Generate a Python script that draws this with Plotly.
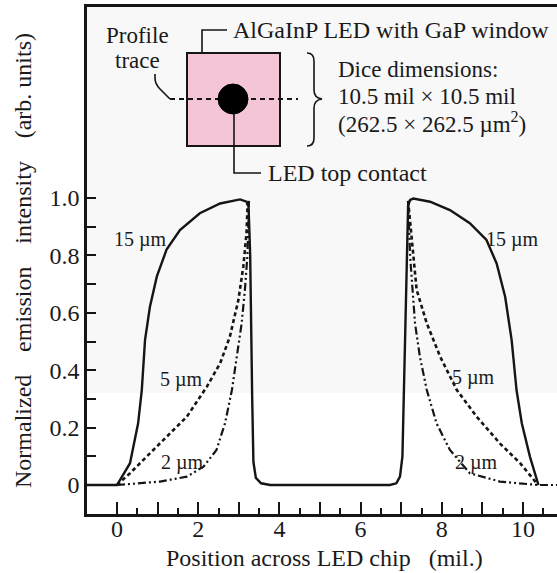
import plotly.graph_objects as go

# ---------------- data ----------------
x_15um = [-0.74, 0, 0.32, 0.52, 0.61, 0.69, 0.81, 0.98, 1.22, 1.55, 2.04, 2.54, 3.03, 3.19,
          3.24, 3.28, 3.33, 3.36, 3.42, 3.55, 3.77,
          6.72, 6.88, 6.97, 7.03, 7.08, 7.13, 7.17, 7.22, 7.30,
          7.71, 8.2, 8.69, 9.1, 9.35, 9.56, 9.72, 9.84, 9.97, 10.17, 10.38]
y_15um = [0, 0, 0.076, 0.215, 0.33, 0.505, 0.62, 0.726, 0.82, 0.888, 0.947, 0.981, 0.995, 0.987,
          0.97, 0.8, 0.3, 0.08, 0.025, 0.006, 0,
          0, 0.006, 0.029, 0.1, 0.4, 0.8, 0.975, 0.993, 0.998,
          0.987, 0.958, 0.912, 0.854, 0.772, 0.656, 0.505, 0.331, 0.215, 0.099, 0]

x_5um = [0, 0.32, 0.73, 1.22, 1.72, 2.21, 2.54, 2.78, 2.99, 3.11, 3.19, 3.22, None,
         7.17, 7.22, 7.38, 7.63, 7.96, 8.37, 8.86, 9.43, 9.93, 10.37]
y_5um = [0, 0.041, 0.099, 0.168, 0.238, 0.342, 0.424, 0.517, 0.645, 0.76, 0.877, 0.99, None,
         0.99, 0.912, 0.68, 0.563, 0.447, 0.331, 0.238, 0.145, 0.076, 0]

x_2um = [0, 1.06, 1.72, 2.13, 2.45, 2.66, 2.83, 2.95, 3.07, 3.15, 3.21, 3.24, 3.25, None,
         7.17, 7.2, 7.22, 7.34, 7.46, 7.63, 7.87, 8.2, 8.69, 9.43, 10.37, 10.84]
y_2um = [0, 0.012, 0.029, 0.064, 0.122, 0.215, 0.331, 0.447, 0.563, 0.68, 0.795, 0.912, 0.99, None,
         0.99, 0.9, 0.795, 0.563, 0.447, 0.331, 0.215, 0.122, 0.041, 0.012, 0, 0]

x_label_ticks = [0, 2, 4, 6, 8, 10]
x_label_text = ["0", "2", "4", "6", "8", "10"]
x_odd_ticks = [1, 3, 5, 7, 9]
x_half_ticks = [0.5 + i for i in range(11)]
y_label_ticks = [0, 0.2, 0.4, 0.6, 0.8, 1.0]
y_label_text = ["0", "0.2", "0.4", "0.6", "0.8", "1.0"]
y_minor_ticks = [0.1, 0.3, 0.5, 0.7, 0.9]

curve_labels = [("15 µm", 0.57, 0.854), ("5 µm", 1.59, 0.366), ("2 µm", 1.61, 0.08),
                ("15 µm", 9.75, 0.854), ("5 µm", 8.78, 0.373), ("2 µm", 8.85, 0.08)]

x_title = "Position across LED chip\u2002 (mil.)"
y_title = "Normalized\u2002\u2009 emission\u2002\u2009 intensity\u2002\u2009 (arb. units)"

# ---------------- layout geometry ----------------
W, H = 557, 573
L, R, T, B = 87, 0, 7, 59
PW, PH = W - L - R, H - T - B
FONT = "Liberation Serif, Times New Roman, serif"
INK = "#151515"
TXT = "#1a1a1a"
XR = [-0.739, 10.837]


def P(px, py):
    """pixel -> paper coordinates"""
    return (px - L) / PW, (H - B - py) / PH


def path(cmds):
    out = []
    for c in cmds:
        if isinstance(c, str):
            out.append(c)
        else:
            x, y = P(*c)
            out.append(f"{x:.5f},{y:.5f}")
    return " ".join(out)


fig = go.Figure()
fig.add_trace(go.Scatter(x=x_15um, y=y_15um, mode="lines",
                         line=dict(color=INK, width=2.4), hoverinfo="skip"))
fig.add_trace(go.Scatter(x=x_5um, y=y_5um, mode="lines",
                         line=dict(color=INK, width=2.6, dash="4px,3px"), hoverinfo="skip"))
fig.add_trace(go.Scatter(x=x_2um, y=y_2um, mode="lines",
                         line=dict(color=INK, width=2.2, dash="8px,3px,2px,3px,2px,3px"),
                         hoverinfo="skip"))

shapes = []
# faint scan tint
x0, y0 = P(L, 393)
x1, y1 = P(W, T)
shapes.append(dict(type="rect", xref="paper", yref="paper", x0=x0, y0=y0, x1=x1, y1=y1,
                   fillcolor="#f8f8f8", line=dict(width=0), layer="below"))
# pink chip
x0, y0 = P(187, 146)
x1, y1 = P(280, 53)
shapes.append(dict(type="rect", xref="paper", yref="paper", x0=x0, y0=y0, x1=x1, y1=y1,
                   fillcolor="#f3c5d6", line=dict(color=INK, width=2)))
# profile trace dashed line
x0, y0 = P(170, 99)
x1, _ = P(298, 99)
shapes.append(dict(type="line", xref="paper", yref="paper", x0=x0, y0=y0, x1=x1, y1=y0,
                   line=dict(color=INK, width=2, dash="5px,4px")))
# top contact
x0, y0 = P(218, 114)
x1, y1 = P(248, 84)
shapes.append(dict(type="circle", xref="paper", yref="paper", x0=x0, y0=y0, x1=x1, y1=y1,
                   fillcolor="#000000", line=dict(color="#000000", width=1)))
# leaders and brace
for cmds in (
    ["M", (170, 99), "L", (160, 89), "Q", (155, 84), (155, 78), "L", (155, 74)],
    ["M", (202, 53), "L", (202, 30), "L", (227, 30)],
    ["M", (234, 114), "L", (234, 173), "L", (261, 173)],
    ["M", (307, 53), "Q", (314, 53), (314, 61), "L", (314, 90), "Q", (314, 98), (322, 99),
     "Q", (314, 100), (314, 108), "L", (314, 138), "Q", (314, 146), (307, 146)],
):
    shapes.append(dict(type="path", xref="paper", yref="paper", path=path(cmds),
                       line=dict(color=INK, width=1.6)))

annotations = []


def txt(s, px, py, size=24, xanchor="left", **kw):
    x, y = P(px, py)
    annotations.append(dict(text=s, x=x, y=y, xref="paper", yref="paper", showarrow=False,
                            xanchor=xanchor, yanchor="middle",
                            font=dict(family=FONT, size=size, color=TXT), **kw))


txt("Profile", 137, 36, size=23, xanchor="center")
txt("trace", 137, 61, size=23, xanchor="center")
txt("AlGaInP LED with GaP window", 231, 30, size=24)
txt("Dice dimensions:", 336, 70, size=23)
txt("10.5 mil × 10.5 mil", 336, 96, size=23)
txt("(262.5 × 262.5 µm<sup>2</sup>)", 336, 123, size=23)
txt("LED top contact", 266, 173, size=24)
txt(x_title, 324, 558, size=24, xanchor="center")

for s, xv, yv in curve_labels:
    annotations.append(dict(text=s, x=xv, y=yv, xref="x", yref="y", showarrow=False,
                            xanchor="center", yanchor="middle",
                            font=dict(family=FONT, size=20, color=TXT)))

# invisible helper trace so the overlay axis carrying the odd-integer ticks is drawn
fig.add_trace(go.Scatter(x=[XR[0]], y=[0], xaxis="x2", mode="markers",
                         marker=dict(opacity=0), hoverinfo="skip"))

fig.update_layout(
    width=W, height=H,
    margin=dict(l=L, r=R, t=T, b=B, pad=0),
    paper_bgcolor="white", plot_bgcolor="rgba(0,0,0,0)",
    showlegend=False,
    shapes=shapes, annotations=annotations,
    font=dict(family=FONT, size=24, color=TXT),
    xaxis=dict(range=XR, showgrid=False, zeroline=False,
               showline=True, linecolor=INK, linewidth=2.5, mirror=True,
               tickmode="array", tickvals=x_label_ticks, ticktext=x_label_text,
               ticks="inside", ticklen=12, tickwidth=1.6, tickcolor=INK,
               ticklabelstandoff=-9,
               tickfont=dict(family=FONT, size=24, color=TXT),
               minor=dict(tickmode="array", tickvals=x_half_ticks, ticks="inside",
                          ticklen=6, tickwidth=1.6, tickcolor=INK, showgrid=False)),
    xaxis2=dict(range=XR, overlaying="x", anchor="y", side="bottom",
                showgrid=False, zeroline=False, showline=False, showticklabels=False,
                tickmode="array", tickvals=x_odd_ticks,
                ticks="inside", ticklen=12, tickwidth=1.6, tickcolor=INK),
    yaxis=dict(range=[-0.101, 1.6655], showgrid=False, zeroline=False,
               showline=True, linecolor=INK, linewidth=2.5, mirror=False,
               tickmode="array", tickvals=y_label_ticks, ticktext=y_label_text,
               ticks="inside", ticklen=9, tickwidth=1.6, tickcolor=INK,
               tickfont=dict(family=FONT, size=24, color=TXT),
               title=dict(text=y_title, standoff=12,
                          font=dict(family=FONT, size=24, color=TXT)),
               minor=dict(tickmode="array", tickvals=y_minor_ticks, ticks="inside",
                          ticklen=9, tickwidth=1.6, tickcolor=INK, showgrid=False)),
)

fig.write_html("out.html", config={"displayModeBar": False},
               post_script="document.body.style.margin='0px';")
